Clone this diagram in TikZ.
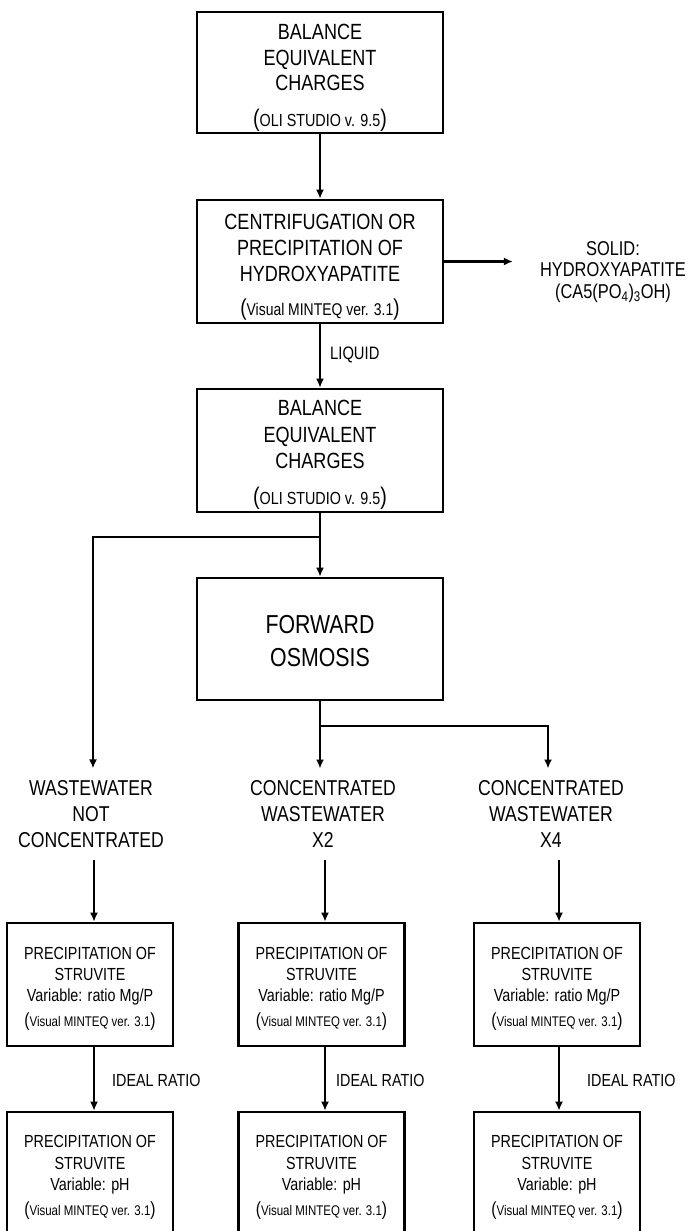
\documentclass[tikz,border=0pt]{standalone}
\usepackage{fontspec}
\setmainfont{Liberation Sans}[FakeStretch=0.82]
\usetikzlibrary{arrows.meta}
\newcommand\parwrap[3]{{\fontsize{#1}{#1}\selectfont(}{\fontsize{#2}{#2}\selectfont #3}{\fontsize{#1}{#1}\selectfont)}}
\newcommand\topup[1]{\rule{0pt}{#1}}
\begin{document}
\begin{tikzpicture}[x=1pt,y=-1pt,
  box/.style={draw, line width=2.6pt, minimum width=246pt, align=center, inner sep=0pt,
              font=\fontsize{22}{25.5}\selectfont},
  sbox/.style={draw, line width=2.6pt, minimum width=166pt, minimum height=123pt, align=center, inner sep=0pt,
              font=\fontsize{17.5}{21.3}\selectfont},
  wtext/.style={align=center, inner xsep=0pt, inner ysep=12pt, font=\fontsize{21.5}{25.8}\selectfont},
  lbl/.style={anchor=west, inner sep=0pt},
  conn/.style={line width=2.5pt},
  arr/.style={conn, -{Latex[length=9pt,width=8pt]}}]
\useasboundingbox (0,0) rectangle (697,1231);
\clip (0,0) rectangle (697,1231);

% main column
\node[box, minimum height=121pt] (b1) at (320,72.5)
  {\topup{26pt}BALANCE\\EQUIVALENT\\CHARGES\\[10.5pt]\parwrap{24}{17.5}{OLI STUDIO v. 9.5}};
\node[box, minimum height=123pt, font=\fontsize{22}{26}\selectfont] (b2) at (320,261.5)
  {\topup{26pt}CENTRIFUGATION OR\\PRECIPITATION OF\\HYDROXYAPATITE\\[8pt]\parwrap{23}{17}{Visual MINTEQ ver. 3.1}};
\node[box, minimum height=123pt, font=\fontsize{22}{26.3}\selectfont] (b3) at (320,450.5)
  {\topup{24pt}BALANCE\\EQUIVALENT\\CHARGES\\[9.5pt]\parwrap{24}{17.5}{OLI STUDIO v. 9.5}};
\node[box, minimum height=122pt, font=\fontsize{26}{33}\selectfont] (fo) at (320,639)
  {\topup{22pt}FORWARD\\OSMOSIS};

\node[align=center, inner sep=0pt, font=\fontsize{20}{21.5}\selectfont] (solid) at (613,272)
  {SOLID:\\HYDROXYAPATITE\\(CA5(PO\textsubscript{4})\textsubscript{3}OH)};
\node[lbl, font=\fontsize{18}{18}\selectfont] (liq) at (330,355) {LIQUID};

% three streams
\node[wtext] (wl) at (91,814) {WASTEWATER\\NOT\\CONCENTRATED};
\node[wtext] (wm) at (323,814) {CONCENTRATED\\WASTEWATER\\X2};
\node[wtext] (wr) at (551,814) {CONCENTRATED\\WASTEWATER\\X4};

\node[sbox] (r1) at (90,984.5)
  {\topup{21pt}PRECIPITATION OF\\STRUVITE\\Variable: ratio Mg/P\\[3.5pt]\parwrap{19}{14}{Visual MINTEQ ver. 3.1}};
\node[sbox] (r2) at (321.5,984.5)
  {\topup{21pt}PRECIPITATION OF\\STRUVITE\\Variable: ratio Mg/P\\[3.5pt]\parwrap{19}{14}{Visual MINTEQ ver. 3.1}};
\node[sbox] (r3) at (557,984.5)
  {\topup{21pt}PRECIPITATION OF\\STRUVITE\\Variable: ratio Mg/P\\[3.5pt]\parwrap{19}{14}{Visual MINTEQ ver. 3.1}};

\node[sbox] (p1) at (90,1173.5)
  {\topup{20pt}PRECIPITATION OF\\STRUVITE\\Variable: pH\\[3.5pt]\parwrap{19}{14}{Visual MINTEQ ver. 3.1}};
\node[sbox] (p2) at (321.5,1173.5)
  {\topup{20pt}PRECIPITATION OF\\STRUVITE\\Variable: pH\\[3.5pt]\parwrap{19}{14}{Visual MINTEQ ver. 3.1}};
\node[sbox] (p3) at (557,1173.5)
  {\topup{20pt}PRECIPITATION OF\\STRUVITE\\Variable: pH\\[3.5pt]\parwrap{19}{14}{Visual MINTEQ ver. 3.1}};

\node[lbl, font=\fontsize{17.5}{17.5}\selectfont] (i1) at (112,1080) {IDEAL RATIO};
\node[lbl, font=\fontsize{17.5}{17.5}\selectfont] (i2) at (336,1080) {IDEAL RATIO};
\node[lbl, font=\fontsize{17.5}{17.5}\selectfont] (i3) at (587,1080) {IDEAL RATIO};

% helper coordinates
\coordinate (j1) at (320,537);
\coordinate (j1l) at (93,537);
\coordinate (j2) at (320,726);
\coordinate (j2r) at (548,726);
\coordinate (c1) at (94,0);
\coordinate (c2) at (325,0);
\coordinate (c3) at (559,0);

% connectors
\draw[arr] (b1.south) -- (b2.north);
\draw[arr] (b2.east) -- ([xshift=-27pt]solid.west |- b2.east);
\draw[arr] (b2.south) -- (b3.north);
\draw[conn] (b3.south) -- (j1);
\draw[arr] (j1) -- (fo.north);
\draw[arr] (j1) -- (j1l) -- (wl.north -| j1l);
\draw[conn] (fo.south) -- (j2);
\draw[arr] (j2) -- (wm.north -| j2);
\draw[arr] (j2) -- (j2r) -- (wr.north -| j2r);

\draw[arr] (wl.south -| c1) -- (r1.north -| c1);
\draw[arr] (wm.south -| c2) -- (r2.north -| c2);
\draw[arr] (wr.south -| c3) -- (r3.north -| c3);
\draw[arr] (r1.south -| c1) -- (p1.north -| c1);
\draw[arr] (r2.south -| c2) -- (p2.north -| c2);
\draw[arr] (r3.south -| c3) -- (p3.north -| c3);
\end{tikzpicture}
\end{document}
